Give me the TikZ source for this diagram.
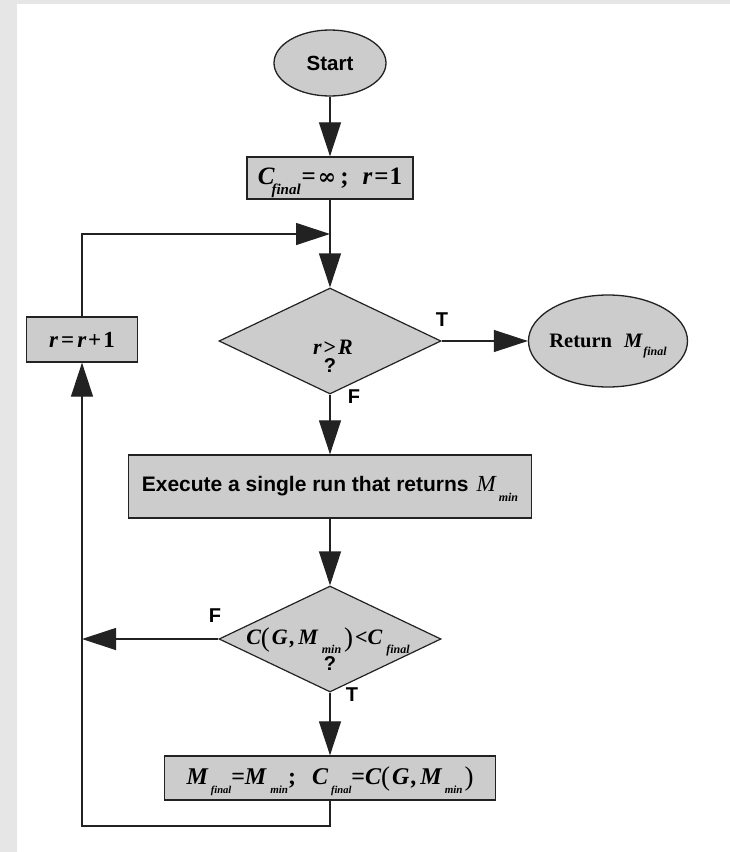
\documentclass[tikz,border=0pt]{standalone}
\usepackage{fontspec}
\setmainfont{Liberation Serif}
\setsansfont{Liberation Sans}
\newfontfamily\symserif{DejaVu Serif}
\usetikzlibrary{shapes.geometric,arrows.meta}
\definecolor{boxgray}{HTML}{CCCCCC}
\definecolor{bandgray}{HTML}{E6E6E6}
\definecolor{edge}{HTML}{222222}
% lowered, smaller subscript in the style of an equation editor (no effect on the line box)
\newcommand\lowsub[3][1pt]{\kern#1\raisebox{-0.4em}[0pt][0pt]{\fontsize{#2}{#2}\selectfont #3}}
% taller upright parentheses
\newcommand\bigpar[1]{\raisebox{-1.5pt}[0pt][0pt]{\mdseries\upshape\fontsize{27}{27}\selectfont #1}}
\begin{document}
\begin{tikzpicture}[x=1pt,y=-1pt,
  conn/.style={draw=edge, line width=1.2pt},
  arr/.style={conn, -{Triangle[length=34pt,width=22pt]}},
  procbox/.style={rectangle, draw=edge, fill=boxgray, line width=1.3pt, inner sep=0pt},
  term/.style={ellipse, draw=edge, fill=boxgray, line width=1.3pt, inner sep=0pt},
  decide/.style={diamond, draw=edge, fill=boxgray, line width=1.2pt, inner sep=0pt, aspect=2.09,
                 minimum width=222pt, minimum height=106pt},
  sanslabel/.style={font=\sffamily\bfseries\fontsize{20}{20}\selectfont, inner sep=0pt},
  mathlabel/.style={font=\bfseries\itshape, inner sep=0pt}]
% page background with the grey band on the left and top
\fill[bandgray] (0,0) rectangle (730,852);
\fill[white] (17,4) rectangle (730,852);
\useasboundingbox (0,0) rectangle (730,852);

% shapes
\node[term, minimum width=112pt, minimum height=66pt] (start) at (330,63)
  {\sffamily\bfseries\fontsize{20.5}{20.5}\selectfont Start};
\node[procbox, minimum width=166pt, minimum height=42pt] (init) at (330,178)
  {\makebox[0pt]{\fontsize{25}{25}\selectfont\bfseries\itshape C\lowsub[-3pt]{15}{final}\kern1pt\upshape =\kern2pt{\symserif\fontsize{22}{22}\selectfont ∞}\kern4pt;\kern14pt\itshape r\upshape\kern2pt=\kern1pt1}};
\node[decide] (test1) at (330,341) {};
\node[mathlabel, font=\bfseries\itshape\fontsize{22}{22}\selectfont] (test1a) at (333,347) {r\kern2pt\upshape>\kern2pt\itshape R};
\node[sanslabel] (test1b) at (330,366) {?};
\node[term, minimum width=159pt, minimum height=92pt] (ret) at (608,341)
  {\makebox[0pt]{\fontsize{20.5}{20.5}\selectfont\bfseries Return\kern12pt\itshape M\lowsub{12}{final}}};
\node[procbox, minimum width=403pt, minimum height=63pt] (run) at (330,486.5)
  {\makebox[0pt]{\sffamily\bfseries\fontsize{21}{21}\selectfont Execute a single run that returns\kern8pt\rmfamily\mdseries\itshape\fontsize{23}{23}\selectfont M\lowsub[3pt]{12}{\bfseries min}}};
\node[decide] (test2) at (330,639) {};
\node[mathlabel] (test2a) at (328,639)
  {\fontsize{22}{22}\selectfont C\bigpar{(}\kern2pt G\kern2pt,\kern3pt M\lowsub[4pt]{12}{min}\kern3pt\bigpar{)}\kern2pt\upshape<\itshape C\lowsub[4pt]{12}{final}};
\node[sanslabel] (test2b) at (330,664) {?};
\node[procbox, minimum width=331pt, minimum height=44pt] (upd) at (330,778)
  {\makebox[0pt]{\fontsize{24}{24}\selectfont\bfseries\itshape M\lowsub[3pt]{10.5}{final}\upshape=\itshape M\lowsub[4pt]{11}{min}\upshape;\kern16pt\itshape C\lowsub[3pt]{10.5}{final}\upshape=\itshape C\bigpar{(}\kern2pt G\kern2pt,\kern3pt M\lowsub[3pt]{11}{min}\kern2pt\bigpar{)}}};
\node[procbox, minimum width=111pt, minimum height=45pt] (inc) at (82,339.5)
  {\fontsize{23}{23}\selectfont\bfseries\itshape r\upshape\kern3pt=\kern3pt\itshape r\upshape\kern2pt+\kern2pt1};

% branch labels
\node[sanslabel] (t1) at (442,320) {T};
\node[sanslabel] (f1) at (354,397) {F};
\node[sanslabel] (f2) at (215,616) {F};
\node[sanslabel] (t2) at (352,695) {T};

% junction points of the loop
\coordinate (join) at (330,234);
\coordinate (leftin) at (82,639);
\coordinate (bottom) at (82,826);

% connectors
\draw[arr] (start) -- (init);
\draw[arr] (init) -- (test1);
\draw[arr] (inc.north) |- (join);
\draw[arr] (test1.east) -- (ret.west);
\draw[arr] (test1.south) -- (run.north);
\draw[arr] (run.south) -- (test2.north);
\draw[arr] (test2.west) -- (leftin);
\draw[arr] (test2.south) -- (upd.north);
\draw[arr] (upd.south) |- (bottom) -- (inc.south);
\end{tikzpicture}
\end{document}
